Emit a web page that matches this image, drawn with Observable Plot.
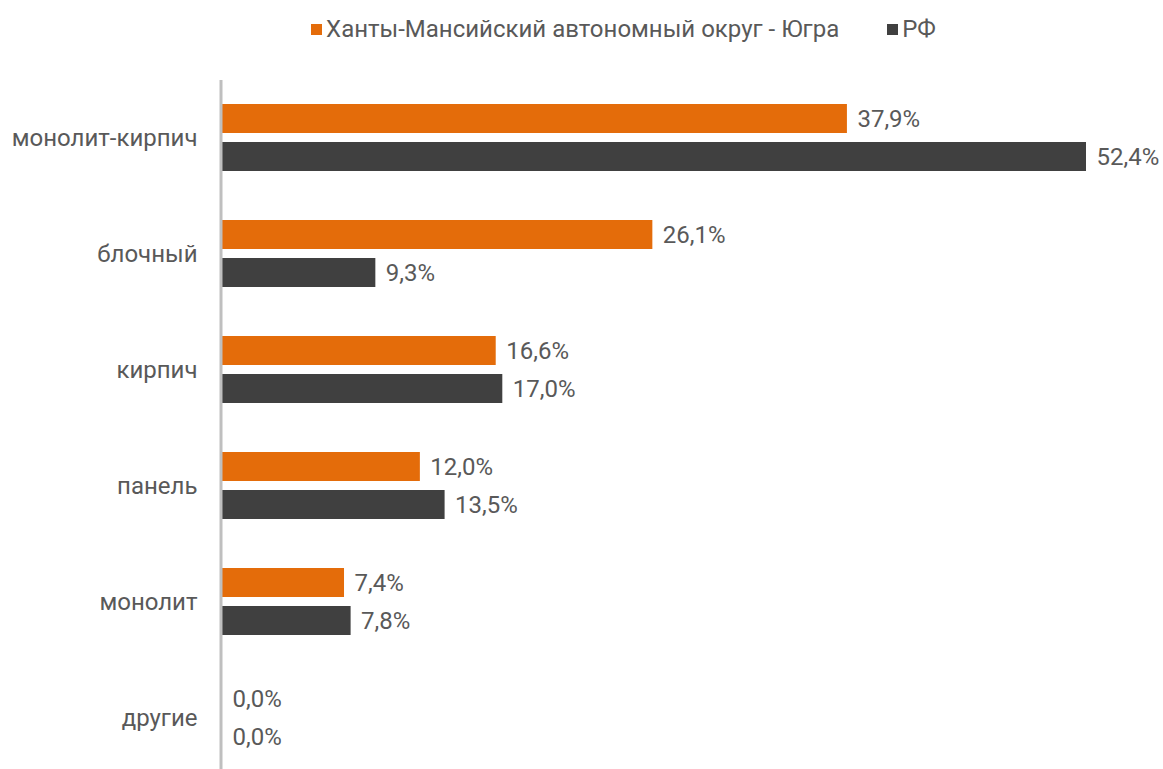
<!DOCTYPE html>
<html>
<head>
<meta charset="utf-8">
<script src="https://cdn.jsdelivr.net/npm/d3@7"></script>
<script src="https://cdn.jsdelivr.net/npm/@observablehq/plot@0.6"></script>
<style>
  html, body { margin: 0; padding: 0; background: #fff; overflow: hidden; }
  body { font-family: Roboto, "Noto Sans", sans-serif; color: #595959; }
  #legend { height: 58px; display: flex; justify-content: center; align-items: center; font-size: 24px; padding-left: 84px; box-sizing: border-box; }
  .item { display: flex; align-items: center; margin: 0 24px; }
  .sw { width: 11px; height: 11px; margin-right: 4px; display: inline-block; }
  svg { display: block; }
</style>
</head>
<body>
<div id="legend"></div>
<div id="chart"></div>
<script>
const categories = ["монолит-кирпич", "блочный", "кирпич", "панель", "монолит", "другие"];
const series = ["Ханты-Мансийский автономный округ - Югра", "РФ"];
const yugra = [37.9, 26.1, 16.6, 12.0, 7.4, 0.0];
const rf = [52.4, 9.3, 17.0, 13.5, 7.8, 0.0];
const colors = ["#E46C0A", "#404040"];

const data = [];
categories.forEach((c, i) => {
  data.push({cat: c, series: series[0], value: yugra[i]});
  data.push({cat: c, series: series[1], value: rf[i]});
});

const legend = document.getElementById("legend");
series.forEach((s, i) => {
  const it = document.createElement("div");
  it.className = "item";
  const sw = document.createElement("span");
  sw.className = "sw";
  sw.style.background = colors[i];
  it.appendChild(sw);
  const t = document.createElement("span");
  t.textContent = s;
  it.appendChild(t);
  legend.appendChild(it);
});

const fmt = v => v.toFixed(1).replace(".", ",") + "%";

const chart = Plot.plot({
  width: 1163,
  height: 719,
  marginLeft: 222,
  marginRight: 77,
  marginTop: 21,
  marginBottom: 0,
  style: {fontSize: "24px", fontFamily: "Roboto, 'Noto Sans', sans-serif", color: "#595959", background: "#fff"},
  x: {domain: [0, 52.4], axis: null},
  fy: {domain: categories, padding: 0, label: null, tickSize: 0, tickPadding: 25, axis: "left"},
  y: {domain: series, axis: null, paddingInner: 0.234, paddingOuter: 0.628},
  color: {domain: series, range: colors},
  marks: [
    Plot.barX(data, {fy: "cat", y: "series", x: "value", fill: "series"}),
    Plot.text(data, {fy: "cat", y: "series", x: "value", text: d => fmt(d.value), textAnchor: "start", dx: 10, fill: "#595959", fontSize: 24}),
    Plot.ruleX([0], {stroke: "#BFBFBF", strokeWidth: 3, dx: -1.5})
  ]
});
document.getElementById("chart").appendChild(chart);
</script>
</body>
</html>
